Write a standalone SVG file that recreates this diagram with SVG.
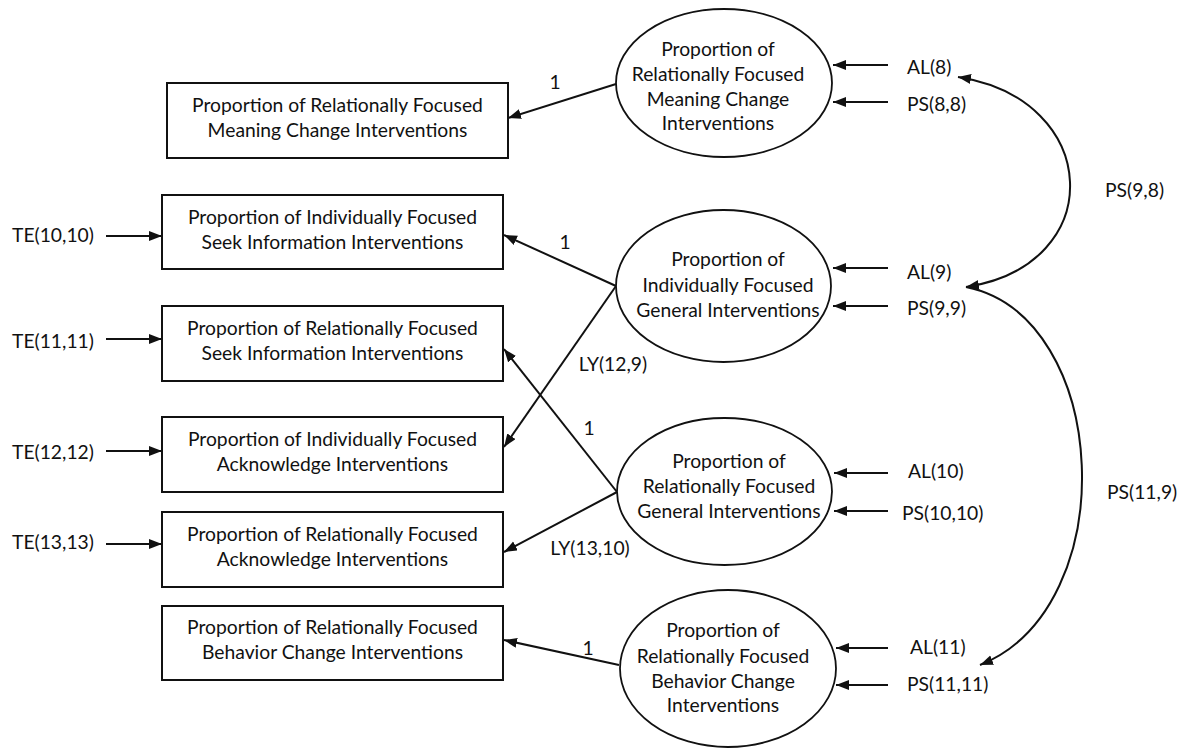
<svg xmlns="http://www.w3.org/2000/svg" width="1189" height="749" viewBox="0 0 1189 749">
<style>
text{font-family:"Lato","Liberation Sans",sans-serif;font-size:19.3px;fill:#111}
.c{text-anchor:middle}
.box{fill:#fff;stroke:#111;stroke-width:2}
.ell{fill:#fff;stroke:#111;stroke-width:1.8}
.ln{fill:none;stroke:#111;stroke-width:2}
</style>
<defs>
<marker id="ah" markerUnits="userSpaceOnUse" markerWidth="14" markerHeight="12" refX="13" refY="5" orient="auto-start-reverse">
<path d="M0,0 L13,5 L0,10 z" fill="#111"/>
</marker>
</defs>
<rect width="1189" height="749" fill="#fff"/>
<g id="connectors">
<path class="ln" d="M616,84 L508,118" marker-end="url(#ah)"/>
<path class="ln" d="M616,286 L504,235" marker-end="url(#ah)"/>
<path class="ln" d="M616,286 L504,447" marker-end="url(#ah)"/>
<path class="ln" d="M617,492 L504,349" marker-end="url(#ah)"/>
<path class="ln" d="M617,492 L504,552" marker-end="url(#ah)"/>
<path class="ln" d="M619,665 L504,640" marker-end="url(#ah)"/>
<path class="ln" d="M106,236 L162,236" marker-end="url(#ah)"/>
<path class="ln" d="M106,339 L162,339" marker-end="url(#ah)"/>
<path class="ln" d="M106,451 L162,451" marker-end="url(#ah)"/>
<path class="ln" d="M106,544 L162,544" marker-end="url(#ah)"/>
<path class="ln" d="M888,65 L833,65" marker-end="url(#ah)"/>
<path class="ln" d="M888,102 L833,102" marker-end="url(#ah)"/>
<path class="ln" d="M888,268 L833,268" marker-end="url(#ah)"/>
<path class="ln" d="M888,306 L833,306" marker-end="url(#ah)"/>
<path class="ln" d="M888,473 L834,473" marker-end="url(#ah)"/>
<path class="ln" d="M888,511 L834,511" marker-end="url(#ah)"/>
<path class="ln" d="M888,648 L836,648" marker-end="url(#ah)"/>
<path class="ln" d="M888,685 L836,685" marker-end="url(#ah)"/>
<path class="ln" d="M958,77 C1102,99 1110,265 966,287" marker-start="url(#ah)" marker-end="url(#ah)"/>
<path class="ln" d="M966,287 C1111,316 1125,607 980,665" marker-end="url(#ah)"/>
<text class="c" x="555" y="89">1</text>
<text class="c" x="565" y="249">1</text>
<text class="c" x="613" y="371">LY(12,9)</text>
<text class="c" x="589" y="435">1</text>
<text class="c" x="590" y="555">LY(13,10)</text>
<text class="c" x="588" y="655">1</text>
<text x="12" y="242">TE(10,10)</text>
<text x="12" y="348">TE(11,11)</text>
<text x="12" y="459">TE(12,12)</text>
<text x="12" y="549">TE(13,13)</text>
<text x="907" y="74">AL(8)</text>
<text x="907" y="111">PS(8,8)</text>
<text x="907" y="279">AL(9)</text>
<text x="907" y="315">PS(9,9)</text>
<text x="908" y="478">AL(10)</text>
<text x="902" y="520">PS(10,10)</text>
<text x="910" y="654">AL(11)</text>
<text x="907" y="691">PS(11,11)</text>
<text x="1105" y="197">PS(9,8)</text>
<text x="1107" y="499">PS(11,9)</text>
</g>
<g id="r1"><rect class="box" x="167" y="83" width="341" height="75"/>
<text class="c" x="337.5" y="112">Proportion of Relationally Focused</text>
<text class="c" x="337.5" y="137">Meaning Change Interventions</text></g>
<g id="r2"><rect class="box" x="162" y="195" width="341" height="74"/>
<text class="c" x="332.5" y="224">Proportion of Individually Focused</text>
<text class="c" x="332.5" y="249">Seek Information Interventions</text></g>
<g id="r3"><rect class="box" x="162" y="306" width="341" height="75"/>
<text class="c" x="332.5" y="334.5">Proportion of Relationally Focused</text>
<text class="c" x="332.5" y="359.5">Seek Information Interventions</text></g>
<g id="r4"><rect class="box" x="162" y="417" width="341" height="75"/>
<text class="c" x="332.5" y="446">Proportion of Individually Focused</text>
<text class="c" x="332.5" y="471">Acknowledge Interventions</text></g>
<g id="r5"><rect class="box" x="162" y="512" width="341" height="75"/>
<text class="c" x="332.5" y="541">Proportion of Relationally Focused</text>
<text class="c" x="332.5" y="566">Acknowledge Interventions</text></g>
<g id="r6"><rect class="box" x="162" y="606" width="341" height="74"/>
<text class="c" x="332.5" y="634">Proportion of Relationally Focused</text>
<text class="c" x="332.5" y="659">Behavior Change Interventions</text></g>
<g id="e1"><ellipse class="ell" cx="724" cy="83" rx="108" ry="74"/>
<text class="c" x="718" y="56">Proportion of</text>
<text class="c" x="718" y="81">Relationally Focused</text>
<text class="c" x="718" y="106">Meaning Change</text>
<text class="c" x="718" y="130">Interventions</text></g>
<g id="e2"><ellipse class="ell" cx="723.5" cy="286" rx="107.5" ry="76"/>
<text class="c" x="728" y="266">Proportion of</text>
<text class="c" x="728" y="292">Individually Focused</text>
<text class="c" x="728" y="317">General Interventions</text></g>
<g id="e3"><ellipse class="ell" cx="724.5" cy="491.5" rx="107.5" ry="73.5"/>
<text class="c" x="729" y="468">Proportion of</text>
<text class="c" x="729" y="493">Relationally Focused</text>
<text class="c" x="729" y="518">General Interventions</text></g>
<g id="e4"><ellipse class="ell" cx="728" cy="668.5" rx="108" ry="78.5"/>
<text class="c" x="723" y="637">Proportion of</text>
<text class="c" x="723" y="663">Relationally Focused</text>
<text class="c" x="723" y="688">Behavior Change</text>
<text class="c" x="723" y="712">Interventions</text></g>
</svg>
